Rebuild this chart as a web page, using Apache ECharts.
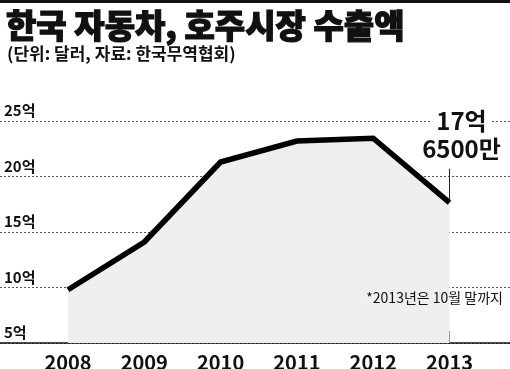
<!DOCTYPE html>
<html><head><meta charset="utf-8">
<script src="https://cdn.jsdelivr.net/npm/echarts@6/dist/echarts.min.js"></script>
<style>html,body{margin:0;padding:0;background:#fff}#c{width:510px;height:369px}</style>
</head><body><div id="c"></div>
<script>
var years = [2008, 2009, 2010, 2011, 2012, 2013];
var exportsEok = [9.8, 14.1, 21.3, 23.2, 23.45, 17.65];
var yTicks = [5, 10, 15, 20, 25];
var titleText = '한국 자동차, 호주시장 수출액';
var subtitleText = '(단위: 달러, 자료: 한국무역협회)';
var noteText = '*2013년은 10월 말까지';
var lastLabel = ['17억', '6500만'];

var KR = "'Noto Sans CJK KR',sans-serif";
var chart = echarts.init(document.getElementById('c'), null, {renderer:'canvas'});
var lastIdx = years.length - 1;
chart.setOption({
  animation:false,
  backgroundColor:'#fff',
  title:[
    {text:titleText, left:1, top:4, textStyle:{fontFamily:KR, fontSize:33, fontWeight:900, color:'#111', textBorderColor:'#111', textBorderWidth:1.2}},
    {text:subtitleText, left:2, top:40, textStyle:{fontFamily:KR, fontSize:17, fontWeight:'bold', color:'#111'}},
    {text:noteText, right:2, top:286, textStyle:{fontFamily:KR, fontSize:14, fontWeight:'normal', color:'#111'}}
  ],
  graphic:[{type:'rect', left:0, top:0, shape:{width:510, height:3}, style:{fill:'#111'}}],
  grid:{left:0, right:0, top:121, bottom:26, outerBoundsMode:'none', containLabel:false},
  xAxis:{
    type:'value', min:2007.109, max:2013.793,
    axisLine:{show:true, lineStyle:{color:'#111', width:1.5}},
    axisTick:{show:true, inside:true, length:12, customValues:years, lineStyle:{color:'#444', width:1}},
    axisLabel:{customValues:years, margin:9, fontFamily:KR, fontSize:20, fontWeight:'bold', color:'#111', formatter:function(v){return String(Math.round(v));}},
    splitLine:{show:false}
  },
  yAxis:{
    type:'value', min:5, max:25, interval:5,
    axisLine:{show:false}, axisTick:{show:false},
    axisLabel:{inside:true, margin:4, verticalAlign:'bottom', padding:[0,0,3,0], fontFamily:KR, fontSize:15, fontWeight:'bold', color:'#111', formatter:function(v){return v+'억';}},
    splitLine:{show:true, lineStyle:{color:'#555', width:1, type:[2,2]}}
  },
  series:[{
    type:'line',
    data:years.map(function(y,i){return [y, exportsEok[i]];}),
    symbol:'none',
    lineStyle:{color:'#000', width:5.5, join:'miter'},
    areaStyle:{color:'#efefef', opacity:1, origin:'start'},
    z:3,
    markLine:{
      silent:true, symbol:'none', label:{show:false},
      lineStyle:{color:'#222', width:1, type:'solid'},
      data:[[{coord:[years[lastIdx], exportsEok[lastIdx]]},{coord:[years[lastIdx], 20.7]}]]
    },
    markPoint:{
      symbol:'circle', symbolSize:0,
      data:[{coord:[years[lastIdx], exportsEok[lastIdx]]}],
      label:{
        show:true, position:'inside', offset:[12,-68],
        formatter:'{a|'+lastLabel[0]+'}\n{b|'+lastLabel[1]+'}',
        rich:{
          a:{fontFamily:KR, fontSize:24, fontWeight:'bold', color:'#111', backgroundColor:'#fff', padding:[0,4], lineHeight:28, align:'center'},
          b:{fontFamily:KR, fontSize:24, fontWeight:'bold', color:'#111', lineHeight:28, align:'center'}
        }
      }
    }
  }]
});
</script></body></html>
